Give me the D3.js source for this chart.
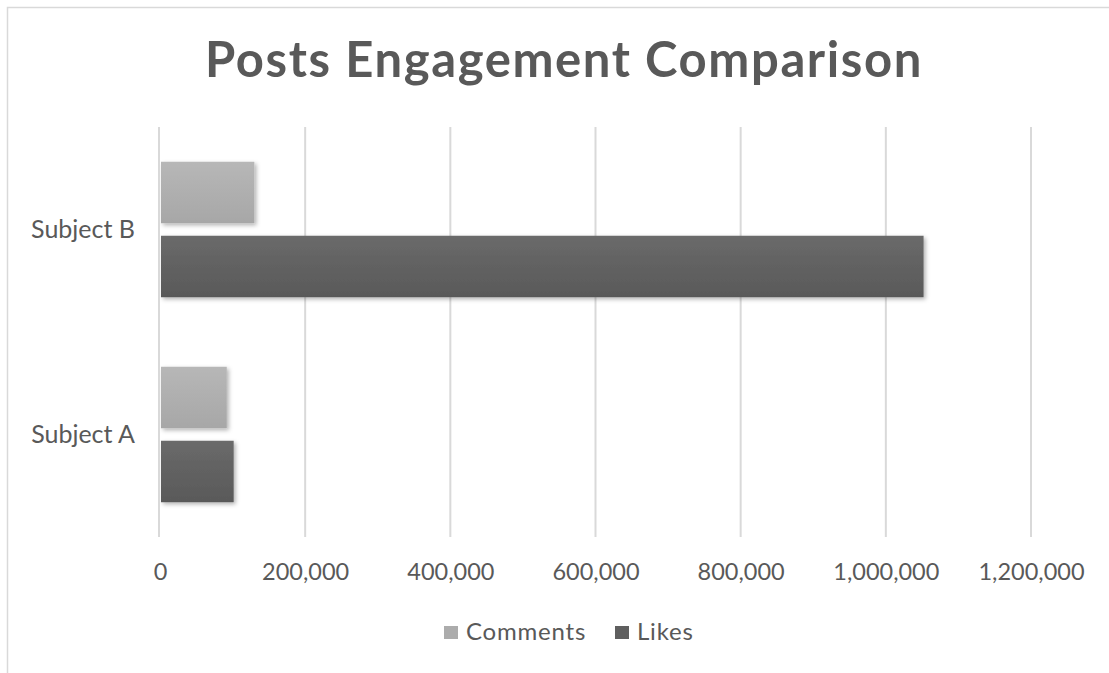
<!DOCTYPE html>
<html>
<head>
<meta charset="utf-8">
<script src="https://cdn.jsdelivr.net/npm/d3@7"></script>
<style>
  html, body { margin: 0; padding: 0; background: #fff; }
  svg { display: block; }
  text { font-family: Lato, "Open Sans", sans-serif; fill: #595959; }
</style>
</head>
<body>
<svg id="chart" width="1109" height="673"></svg>
<script>
const categories = ["Subject B", "Subject A"];
const seriesNames = ["Comments", "Likes"];
const comments = [130000, 92000];
const likes = [1052000, 101500];
const ticks = [0, 200000, 400000, 600000, 800000, 1000000, 1200000];
const titleText = "Posts Engagement Comparison";

const svg = d3.select("#chart");
const W = 1109, H = 673;
const margin = {left: 160, right: 78, top: 127, bottom: 136};

// outer border (left/top visible)
svg.append("rect").attr("x", 7.5).attr("y", 7.5).attr("width", W + 20).attr("height", H + 20)
  .attr("fill", "#fff").attr("stroke", "#d9d9d9").attr("stroke-width", 1.5);

const defs = svg.append("defs");
const grads = [["gC", "#b7b7b7", "#a7a7a7"], ["gL", "#6a6a6a", "#595959"]];
grads.forEach(([id, c1, c2]) => {
  const g = defs.append("linearGradient").attr("id", id).attr("x1", 0).attr("y1", 0).attr("x2", 0).attr("y2", 1);
  g.append("stop").attr("offset", "0%").attr("stop-color", c1);
  g.append("stop").attr("offset", "100%").attr("stop-color", c2);
});
const f = defs.append("filter").attr("id", "shadow").attr("x", "-10%").attr("y", "-20%").attr("width", "130%").attr("height", "150%");
f.append("feDropShadow").attr("dx", 2).attr("dy", 2).attr("stdDeviation", 2.2).attr("flood-color", "#000").attr("flood-opacity", 0.3);

const x = d3.scaleLinear().domain([0, 1200000]).range([margin.left, W - margin.right]);
const y = d3.scaleBand().domain(categories).range([margin.top, H - margin.bottom]).paddingInner(0).paddingOuter(0);
const inner = d3.scaleBand().domain(seriesNames).range([0, y.bandwidth()]).paddingInner(0.169).paddingOuter(0.47);

// title
svg.append("text").attr("x", 564).attr("y", 77).attr("text-anchor", "middle")
  .attr("font-size", 49).attr("font-weight", "bold").attr("letter-spacing", 1.6)
  .style("fill", "#595959").text(titleText);

// gridlines
svg.append("g").selectAll("line").data(ticks.slice(1)).join("line")
  .attr("x1", d => x(d)).attr("x2", d => x(d))
  .attr("y1", margin.top).attr("y2", H - margin.bottom)
  .attr("stroke", "#d9d9d9").attr("stroke-width", 2);

// x axis labels
const xAxis = d3.axisBottom(x).tickValues(ticks).tickSize(0).tickPadding(0)
  .tickFormat(d3.format(","));
const gx = svg.append("g").attr("transform", `translate(0,${H - margin.bottom + 35})`).call(xAxis);
gx.select(".domain").remove();
gx.selectAll("text").attr("font-size", 23.5).style("fill", "#595959").attr("dy", "0.35em").attr("y", 0)
  .style("font-family", "Lato, sans-serif");

// y axis labels
const yAxis = d3.axisLeft(y).tickSize(0).tickPadding(25);
const gy = svg.append("g").attr("transform", `translate(${margin.left},0)`).call(yAxis);
gy.select(".domain").remove();
gy.selectAll("text").attr("font-size", 25).style("fill", "#595959").style("font-family", "Lato, sans-serif");

// bars
const data = [];
categories.forEach((c, i) => {
  data.push({cat: c, s: "Comments", v: comments[i]});
  data.push({cat: c, s: "Likes", v: likes[i]});
});
svg.append("g").selectAll("rect").data(data).join("rect")
  .attr("x", x(0) + 1)
  .attr("y", d => y(d.cat) + inner(d.s))
  .attr("width", d => x(d.v) - x(0) - 1)
  .attr("height", inner.bandwidth())
  .attr("fill", d => d.s === "Comments" ? "url(#gC)" : "url(#gL)")
  .attr("filter", "url(#shadow)");

// left axis line
svg.append("line").attr("x1", x(0) - 1).attr("x2", x(0) - 1)
  .attr("y1", margin.top).attr("y2", H - margin.bottom)
  .attr("stroke", "#d9d9d9").attr("stroke-width", 2);

// legend
const legend = svg.append("g");
const items = [{name: "Comments", fill: "#acacac", x: 444}, {name: "Likes", fill: "#5f5f5f", x: 615}];
items.forEach(it => {
  legend.append("rect").attr("x", it.x).attr("y", 626).attr("width", 14).attr("height", 13).attr("fill", it.fill);
  legend.append("text").attr("x", it.x + 22).attr("y", 632).attr("dy", "0.35em")
    .attr("font-size", 24).attr("letter-spacing", 0.8).style("fill", "#595959").text(it.name);
});
</script>
</body>
</html>
